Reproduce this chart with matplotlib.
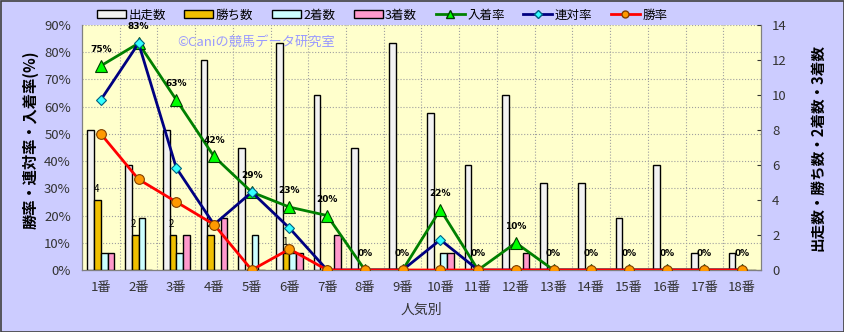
import numpy as np
import matplotlib
matplotlib.use('Agg')
import matplotlib.pyplot as plt
from matplotlib.patches import Rectangle
from matplotlib.lines import Line2D

plt.rcParams['font.family'] = ['Noto Sans CJK JP', 'DejaVu Sans']

# data
cats = [f'{i}番' for i in range(1, 19)]
starts = [8, 6, 8, 12, 7, 13, 10, 7, 13, 9, 6, 10, 5, 5, 3, 6, 1, 1]
wins   = [4, 2, 2, 2, 0, 1, 0, 0, 0, 0, 0, 0, 0, 0, 0, 0, 0, 0]
second = [1, 3, 1, 0, 2, 1, 0, 0, 0, 1, 0, 0, 0, 0, 0, 0, 0, 0]
third  = [1, 0, 2, 3, 0, 1, 2, 0, 0, 1, 0, 1, 0, 0, 0, 0, 0, 0]
place_rate = [75.0, 83.3, 62.5, 41.7, 28.6, 23.1, 20.0, 0, 0, 22.2, 0, 10.0, 0, 0, 0, 0, 0, 0]
top2_rate  = [62.5, 83.3, 37.5, 16.7, 28.6, 15.4, 0, 0, 0, 11.1, 0, 0, 0, 0, 0, 0, 0, 0]
win_rate   = [50.0, 33.3, 25.0, 16.7, 0, 7.7, 0, 0, 0, 0, 0, 0, 0, 0, 0, 0, 0, 0]

W, H = 845, 332
fig = plt.figure(figsize=(W / 100, H / 100), dpi=100)
fig.patch.set_facecolor('#CCCCFF')
fig.patches.append(Rectangle((0.5 / W, 0.5 / H), 1 - 1.5 / W, 1 - 1.5 / H,
                             transform=fig.transFigure, fill=False,
                             edgecolor='#404040', lw=1.2))

# plot area: x 82..761, y 25..270 (pixels from top)
ax = fig.add_axes([82 / W, (H - 270) / H, (761 - 82) / W, (270 - 25) / H])
ax.set_facecolor('#FFFFCC')
ax2 = ax.twinx()

x = np.arange(len(cats))
bw = 0.178
bar_sets = [(starts, '#F2F2F2'), (wins, '#F0C000'), (second, '#CCFFFF'), (third, '#FF99CC')]
for k, (vals, col) in enumerate(bar_sets):
    ax2.bar(x + (k - 1.5) * bw, vals, width=bw, color=col, edgecolor='black',
            lw=1.0, zorder=2)

for xi, v in zip(x, wins):
    if v > 0:
        ax2.annotate(str(v), (xi - 0.5 * bw, v), xytext=(-1, 4),
                     textcoords='offset points', ha='center', va='bottom',
                     fontsize=7, zorder=3)

ax2.set_ylim(0, 14)
ax2.set_yticks(range(0, 15, 2))
ax2.tick_params(axis='y', direction='in', length=3, labelsize=9.5,
                colors='#333333', pad=8)
ax2.set_ylabel('出走数・勝ち数・2着数・3着数', fontsize=10.5, fontweight='bold',
               labelpad=16)

# lines on a third overlay so they sit above the bars
ax3 = ax.twinx()
ax3.set_ylim(0, 90)
ax3.axis('off')
ax3.plot(x, place_rate, color='#008000', lw=2, marker='^', ms=8,
         mfc='#00FF00', mec='#004000', mew=0.8, zorder=5)
ax3.plot(x, top2_rate, color='#000080', lw=2, marker='D', ms=5,
         mfc='#33FFFF', mec='#006080', mew=0.8, zorder=6)
ax3.plot(x, win_rate, color='#FF0000', lw=2, marker='o', ms=7,
         mfc='#FF9900', mec='#804000', mew=0.8, zorder=7)
for xi, v in zip(x, place_rate):
    ax3.annotate(f'{int(v + 0.5)}%', (xi, v), xytext=(0, 8.5),
                 textcoords='offset points', ha='center', va='bottom',
                 fontsize=6.5, fontweight='bold', family='DejaVu Sans', zorder=8)

ax3.text(0.256, 0.93, '©Caniの競馬データ研究室', transform=ax3.transAxes,
         ha='center', va='center', fontsize=9.5, color='#9999FF', zorder=1)

ax.set_xlim(-0.5, len(cats) - 0.5)
ax3.set_xlim(-0.5, len(cats) - 0.5)
ax.set_ylim(0, 90)
ax.set_yticks(range(0, 91, 10))
ax.set_yticklabels([f'{v}%' for v in range(0, 91, 10)])
ax.set_xticks(x)
ax.set_xticklabels(cats)
ax.tick_params(axis='y', length=0, labelsize=9.5, colors='#333333', pad=8)
ax.tick_params(axis='x', length=0, labelsize=9.5, colors='#333333', pad=8)
ax.set_xticks(np.arange(0.5, len(cats) - 0.5), minor=True)
ax.tick_params(axis='x', which='minor', length=0)
ax.grid(True, which='minor', axis='x', color='#A0A0A0', ls=':', lw=0.8)
ax.grid(True, which='major', axis='y', color='#A0A0A0', ls=':', lw=0.8)
ax.set_axisbelow(True)
ax.set_ylabel('勝率・連対率・入着率(%)', fontsize=11, fontweight='bold', labelpad=5)
ax.yaxis.set_label_coords(-0.064, 0.53)
ax.set_xlabel('人気別', fontsize=10, color='#333333', labelpad=6)

for a in (ax, ax2, ax3):
    for s in a.spines.values():
        s.set_color('#808080')
    a.spines['top'].set_visible(False)
ax.spines['left'].set_color('#606060')
ax.spines['bottom'].set_color('#404040')

handles = [
    Rectangle((0, 0), 1, 1, fc='#F2F2F2', ec='black'),
    Rectangle((0, 0), 1, 1, fc='#F0C000', ec='black'),
    Rectangle((0, 0), 1, 1, fc='#CCFFFF', ec='black'),
    Rectangle((0, 0), 1, 1, fc='#FF99CC', ec='black'),
    Line2D([], [], color='#008000', lw=2, marker='^', ms=6, mfc='#00FF00', mec='#004000'),
    Line2D([], [], color='#000080', lw=2, marker='D', ms=4, mfc='#33FFFF', mec='#006080'),
    Line2D([], [], color='#FF0000', lw=2, marker='o', ms=5, mfc='#FF9900', mec='#804000'),
]
labels = ['出走数', '勝ち数', '2着数', '3着数', '入着率', '連対率', '勝率']
fig.legend(handles, labels, loc='center', bbox_to_anchor=(382 / W, 1 - 15 / H),
           ncol=7, frameon=False, fontsize=9, handlelength=2.3,
           handleheight=0.6, columnspacing=1.5, handletextpad=0.2)

fig.savefig('out.png', dpi=100, facecolor=fig.get_facecolor())
